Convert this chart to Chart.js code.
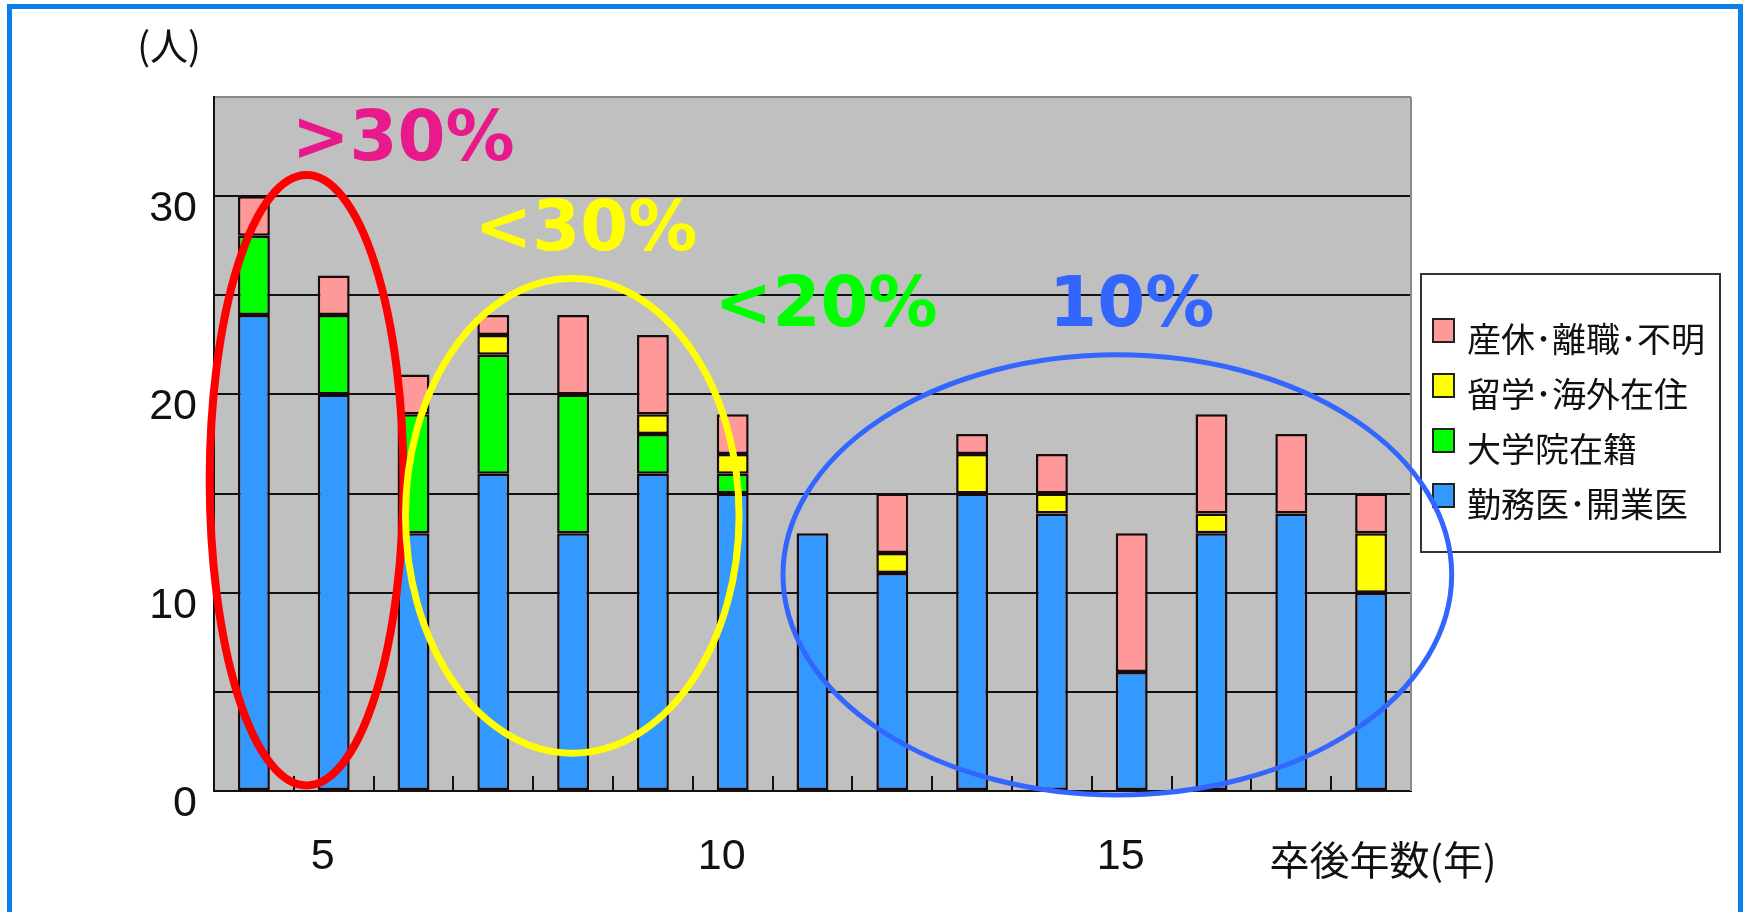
<!DOCTYPE html>
<html><head><meta charset="utf-8">
<script src="https://cdn.jsdelivr.net/npm/chart.js@4/dist/chart.umd.min.js"></script>
<style>
html,body{margin:0;padding:0;background:#fff;overflow:hidden;width:1746px;height:912px;}
#wrap{position:absolute;left:0;top:0;width:1746px;height:912px;}
#frame{position:absolute;left:7px;top:4px;width:1726px;height:1000px;border:5px solid #0A80EB;border-bottom:none;pointer-events:none;}
</style></head><body>
<div id="wrap"><canvas id="c" width="1746" height="912"></canvas></div>
<div id="frame"></div>
<script>
// ---- data ----
const years = ['4','5','6','7','8','9','10','11','12','13','14','15','16','17','18'];
const kinmu     = [24,20,13,16,13,16,15,13,11,15,14, 6,13,14,10]; // 勤務医・開業医
const daigakuin = [ 4, 4, 6, 6, 7, 2, 1, 0, 0, 0, 0, 0, 0, 0, 0]; // 大学院在籍
const ryugaku   = [ 0, 0, 0, 1, 0, 1, 1, 0, 1, 2, 1, 0, 1, 0, 3]; // 留学・海外在住
const sankyu    = [ 2, 2, 2, 1, 4, 4, 2, 0, 3, 1, 2, 7, 5, 4, 2]; // 産休・離職・不明
const seriesLabels = ['勤務医･開業医','大学院在籍','留学･海外在住','産休･離職･不明'];
const xTickLabels = ['','5','','','','','10','','','','','15','','',''];
const yTickLabels = ['0','10','20','30'];
const xTitle = '卒後年数(年)';
const yTitle = '(人)';
const noteTexts = ['>30%','<30%','<20%','10%'];

// ---- annotation placement (in category-index / value units) ----
const notes = [
  {i:1.87, v:31.8, color:'#E8198B'},
  {i:4.16, v:27.3, color:'#FFFF00'},
  {i:7.17, v:23.45, color:'#00FF00'},
  {i:11.0, v:23.45, color:'#3366FF'}
];
const ellipses = [
  {ci:0.66, cv:15.67, ri:1.214, rv:15.39, color:'#FF0000', w:8},
  {ci:3.99, cv:13.88, ri:2.09, rv:11.97, color:'#FFFF00', w:7},
  {ci:10.82, cv:10.9, ri:4.19, rv:11.1, color:'#3366FF', w:5}
];
const colors = ['#3399FF','#00FF00','#FFFF00','#FF9999'];

const decor = {
  id:'decor',
  beforeDraw(chart){
    const {ctx, chartArea:a} = chart;
    ctx.save();
    ctx.fillStyle = '#C0C0C0';
    ctx.fillRect(a.left, a.top, a.right - a.left, a.bottom - a.top);
    ctx.restore();
  },
  beforeDatasetsDraw(chart){
    const {ctx, chartArea:a} = chart;
    const xs = chart.scales.x;
    ctx.save();
    ctx.strokeStyle = '#111'; ctx.lineWidth = 2;
    for (let k = 1; k < years.length; k++){
      const px = Math.round(xs.getPixelForValue(k - 0.5));
      ctx.beginPath(); ctx.moveTo(px, a.bottom); ctx.lineTo(px, a.bottom - 15); ctx.stroke();
    }
    ctx.strokeStyle = '#8a8a8a';
    ctx.beginPath(); ctx.moveTo(a.right, a.top); ctx.lineTo(a.right, a.bottom); ctx.stroke();
    ctx.restore();
  },
  afterDraw(chart){
    const {ctx} = chart;
    const xs = chart.scales.x, ys = chart.scales.y;
    const slot = xs.getPixelForValue(1) - xs.getPixelForValue(0);
    const unit = ys.getPixelForValue(0) - ys.getPixelForValue(1);
    ctx.save();
    // axis titles
    ctx.fillStyle = '#111';
    ctx.textAlign = 'center'; ctx.textBaseline = 'middle';
    ctx.font = '38px "Noto Sans CJK JP"';
    ctx.fillText(yTitle, 169, 46);
    ctx.font = '40px "Noto Sans CJK JP"';
    ctx.fillText(xTitle, xs.getPixelForValue(years.length - 1) + 12, 860);

    // legend box
    const L = {l:1421, t:274, r:1720, b:552};
    ctx.fillStyle = '#fff';
    ctx.fillRect(L.l, L.t, L.r - L.l, L.b - L.t);
    ctx.strokeStyle = '#333'; ctx.lineWidth = 2;
    ctx.strokeRect(L.l, L.t, L.r - L.l, L.b - L.t);
    const ds = chart.data.datasets.slice().reverse();
    ctx.textAlign = 'left';
    ctx.font = '34px "Noto Sans CJK JP"';
    ds.forEach((d, k) => {
      const cy = 330 + k * 55;
      ctx.fillStyle = d.backgroundColor;
      ctx.fillRect(1433, cy - 11, 21, 23);
      ctx.strokeStyle = '#222'; ctx.lineWidth = 2;
      ctx.strokeRect(1433, cy - 11, 21, 23);
      ctx.fillStyle = '#111';
      ctx.fillText(d.label, 1467, cy + 9);
    });

    // ellipses
    ellipses.forEach(e => {
      ctx.beginPath();
      ctx.ellipse(xs.getPixelForValue(e.ci), ys.getPixelForValue(e.cv), e.ri * slot, e.rv * unit, 0, 0, Math.PI * 2);
      ctx.strokeStyle = e.color; ctx.lineWidth = e.w;
      ctx.stroke();
    });
    // percentage notes
    ctx.font = 'bold 69px "DejaVu Sans"';
    ctx.textAlign = 'center'; ctx.textBaseline = 'alphabetic';
    notes.forEach((n, k) => {
      ctx.fillStyle = n.color;
      ctx.fillText(noteTexts[k], xs.getPixelForValue(n.i), ys.getPixelForValue(n.v));
    });
    ctx.restore();
  }
};

const seriesData = [kinmu, daigakuin, ryugaku, sankyu];
new Chart(document.getElementById('c'), {
  type:'bar',
  data:{
    labels: years,
    datasets: seriesData.map((d, k) => ({label: seriesLabels[k], data: d, backgroundColor: colors[k]}))
  },
  options:{
    responsive:false, animation:false, devicePixelRatio:1,
    layout:{padding:{left:0, top:97, right:335, bottom:0}},
    datasets:{bar:{borderColor:'#1a0a0a', borderWidth:2.5, borderSkipped:false, barPercentage:0.4, categoryPercentage:1}},
    plugins:{legend:{display:false}, tooltip:{enabled:false}},
    scales:{
      x:{
        stacked:true,
        grid:{display:false, drawTicks:false},
        border:{display:true, color:'#111', width:2},
        ticks:{autoSkip:false, maxRotation:0, padding:40, labelOffset:-11, color:'#111',
               font:{family:'"Liberation Sans", Arial, sans-serif', size:43},
               callback:(v, i) => xTickLabels[i]},
        afterFit:(s) => { s.height = 121; }
      },
      y:{
        stacked:true, min:0, max:35,
        grid:{color:(c) => (c.tick && c.tick.value === 35) ? '#8a8a8a' : '#111', lineWidth:2, drawTicks:false},
        border:{display:true, color:'#111', width:2},
        ticks:{stepSize:5, padding:17, labelOffset:13, color:'#111',
               font:{family:'"Liberation Sans", Arial, sans-serif', size:43},
               callback:(v) => yTickLabels.includes(String(v)) ? String(v) : ''},
        afterFit:(s) => { s.width = 214; }
      }
    }
  },
  plugins:[decor]
});
</script>
</body></html>
